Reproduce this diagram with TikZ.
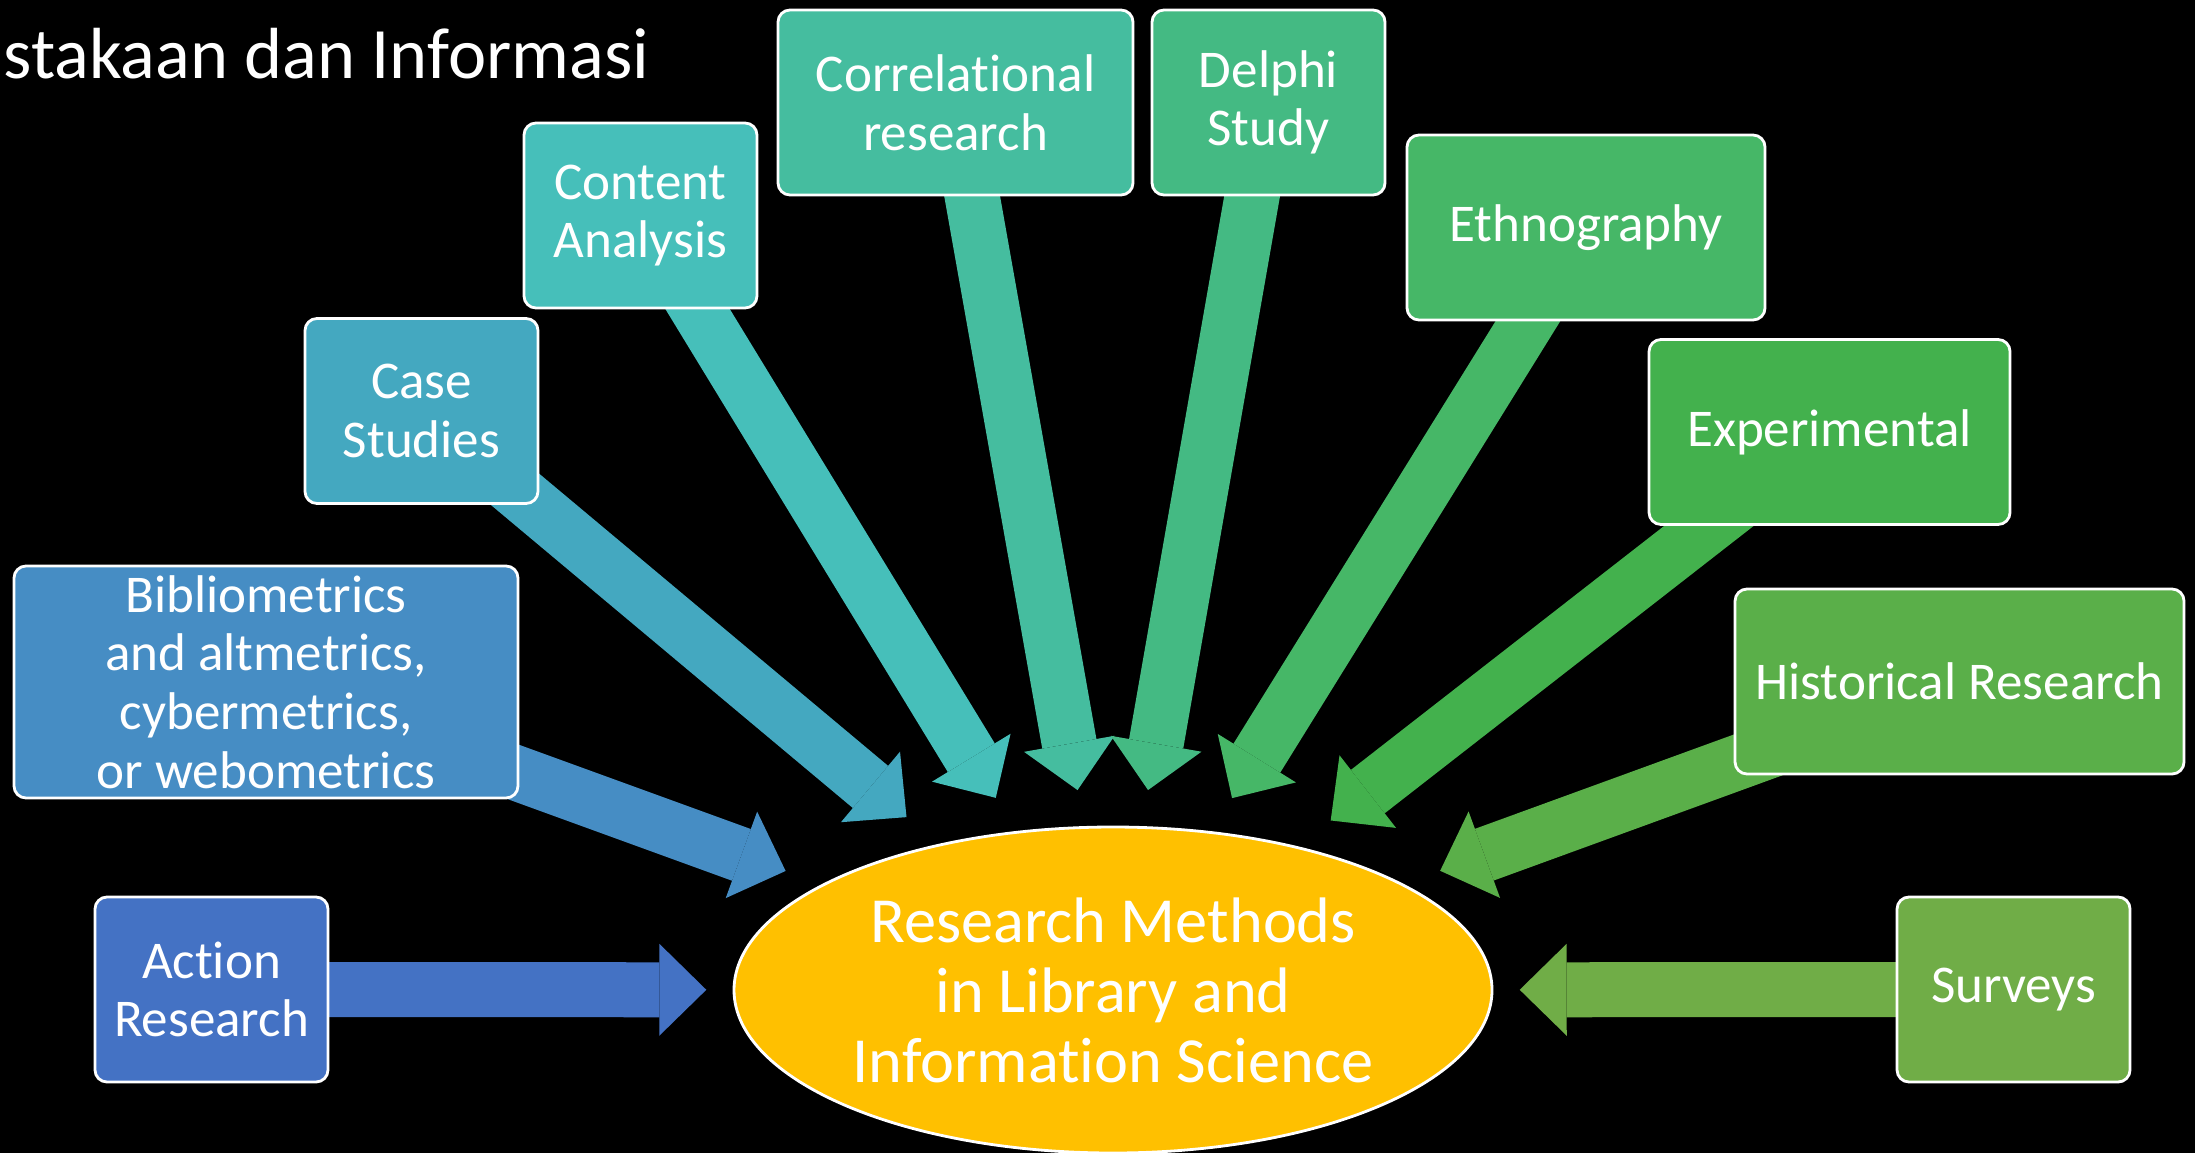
\documentclass[tikz,border=0pt]{standalone}
\usepackage{fontspec}
\setmainfont{Carlito}[Ligatures=NoCommon]
\usetikzlibrary{shapes.geometric, arrows.meta}
\definecolor{cAct}{HTML}{4472C4}
\definecolor{cBib}{HTML}{468DC4}
\definecolor{cCase}{HTML}{44A8C0}
\definecolor{cCont}{HTML}{46BFBA}
\definecolor{cCorr}{HTML}{45BD9F}
\definecolor{cDelp}{HTML}{44BA83}
\definecolor{cEthn}{HTML}{46B767}
\definecolor{cExpe}{HTML}{43B14D}
\definecolor{cHist}{HTML}{5AAF49}
\definecolor{cSurv}{HTML}{70AD47}
\definecolor{cCore}{HTML}{FFC000}
\pgfdeclarelayer{bg}
\pgfsetlayers{bg,main}
\tikzset{
	methodbox/.style={rectangle, rounded corners=0.12cm, draw=white, line width=0.8pt,
		text=white, align=center, minimum width=2.33cm, minimum height=1.85cm,
		inner sep=2pt, font=\fontsize{15.1}{16.7}\selectfont},
	fatarrow/.style={line width=0.55cm,
		-{Triangle[width=0.92cm, length=0.47cm, line width=0pt]}}
}

\begin{document}
\begin{tikzpicture}
		\useasboundingbox (0,0) rectangle (21.95,-11.52);

		\node[anchor=west, inner sep=0pt, text=white, font=\fontsize{20.6}{25}\selectfont] (title) at (0.03,-0.54) {stakaan dan Informasi};

		\node[ellipse, fill=cCore, draw=white, line width=0.8pt, text=white, align=center,
			minimum width=7.58cm, minimum height=3.26cm, inner sep=0pt,
			font=\fontsize{18.3}{19.9}\selectfont] (core) at (11.13,-9.90)
			{Research Methods\\in Library and\\Information Science};
		\node[ellipse, minimum width=8.12cm, minimum height=4.0cm, inner sep=0pt] (ring) at (11.13,-9.90) {};

		\node[methodbox, fill=cAct] (act) at (2.115,-9.895) {Action\\Research};
		\node[methodbox, fill=cBib, minimum width=5.04cm, minimum height=2.32cm] (bib) at (2.66,-6.82) {Bibliometrics\\and altmetrics,\\cybermetrics,\\or webometrics};
		\node[methodbox, fill=cCase] (case) at (4.215,-4.11) {Case\\Studies};
		\node[methodbox, fill=cCont] (cont) at (6.405,-2.155) {Content\\Analysis};
		\node[methodbox, fill=cCorr, minimum width=3.55cm] (corr) at (9.555,-1.025) {Correlational\\research};
		\node[methodbox, fill=cDelp] (delp) at (12.685,-1.025) {Delphi\\Study};
		\node[methodbox, fill=cEthn, minimum width=3.58cm] (ethn) at (15.86,-2.275) {Ethnography};
		\node[methodbox, fill=cExpe, minimum width=3.61cm] (expe) at (18.295,-4.32) {Experimental};
		\node[methodbox, fill=cHist, minimum width=4.49cm] (hist) at (19.595,-6.815) {Historical Research};
		\node[methodbox, fill=cSurv] (surv) at (20.135,-9.895) {Surveys};

		\begin{pgfonlayer}{bg}
			\fill[black] (-0.1,0.1) rectangle (22.05,-11.62);
			\draw[fatarrow, cAct] (act.center) -- (ring);
			\draw[fatarrow, cBib] (bib.center) -- (ring);
			\draw[fatarrow, cCase] (case.center) -- (ring);
			\draw[fatarrow, cCont] (cont.center) -- (ring);
			\draw[fatarrow, cCorr] (corr.center) -- (ring);
			\draw[fatarrow, cDelp] (delp.center) -- (ring);
			\draw[fatarrow, cEthn] (ethn.center) -- (ring);
			\draw[fatarrow, cExpe] (expe.center) -- (ring);
			\draw[fatarrow, cHist] (hist.center) -- (ring);
			\draw[fatarrow, cSurv] (surv.center) -- (ring);
		\end{pgfonlayer}
	\end{tikzpicture}
\end{document}
